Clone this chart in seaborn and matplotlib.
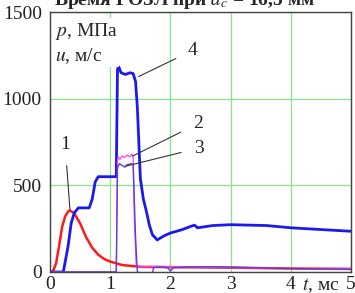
import matplotlib
matplotlib.use("Agg")
import matplotlib.pyplot as plt
import seaborn as sns
import pandas as pd

# curve 1 (red)
t_red = [0, 0.05, 0.1, 0.15, 0.2, 0.25, 0.3, 0.33, 0.4, 0.5, 0.6, 0.7, 0.8, 0.9,
         1.0, 1.2, 1.5, 2.0, 3.0, 4.0, 5.0]
p_red = [0, 5, 50, 150, 260, 320, 350, 355, 340, 280, 200, 140, 100, 75,
         60, 40, 30, 28, 25, 20, 18]

# curve 2 (magenta, thin)
t_mag = [0, 1.1, 1.12, 1.13, 1.16, 1.2, 1.24, 1.28, 1.32, 1.36, 1.38, 1.4, 1.43,
         1.5, 1.7, 2.0, 3.0, 4.0, 5.0]
p_mag = [0, 0, 640, 665, 650, 670, 660, 675, 665, 680, 660, 300, 40,
         30, 32, 30, 25, 20, 18]

# curve 3 (blue, thin)
t_thin = [0, 1.1, 1.12, 1.15, 1.2, 1.24, 1.28, 1.35, 1.38, 1.42, 1.45, 1.5, 1.7,
          1.72, 1.8, 1.95, 2.0, 2.05, 2.5, 3.0, 4.0, 5.0]
p_thin = [0, 0, 600, 625, 615, 605, 620, 625, 620, 200, 0, -5, -5,
          25, 30, 25, 5, 25, 30, 28, 20, 15]

# curve 4 (blue, thick)
t_blue = [0, 0.22, 0.3, 0.35, 0.4, 0.47, 0.65, 0.7, 0.75, 0.8, 1.1, 1.12, 1.14,
          1.18, 1.25, 1.33, 1.38, 1.42, 1.45, 1.5, 1.55, 1.6, 1.65, 1.7, 1.78,
          1.9, 2.0, 2.2, 2.35, 2.4, 2.45, 2.7, 3.0, 3.6, 4.0, 4.5, 5.0]
p_blue = [0, 0, 150, 280, 340, 370, 370, 420, 520, 550, 550, 1170, 1185,
          1150, 1140, 1150, 1145, 1100, 950, 540, 420, 350, 270, 215, 185,
          210, 225, 245, 265, 270, 255, 268, 273, 268, 255, 245, 235]

sns.set_style("white")
plt.rcParams["font.family"] = ["Liberation Serif", "DejaVu Serif"]
plt.rcParams["mathtext.fontset"] = "stix"

fig = plt.figure(figsize=(3.55, 2.93), dpi=100)
ax = fig.add_axes([0.141, 0.0717, 0.848, 0.887])

ax.grid(True, color="#8de08d", linewidth=0.9)
ax.set_axisbelow(True)

sns.lineplot(data=pd.DataFrame({"t": t_red, "p": p_red}), x="t", y="p",
             color="#ff1a1a", linewidth=1.8, ax=ax)
sns.lineplot(data=pd.DataFrame({"t": t_blue, "p": p_blue}), x="t", y="p",
             color="#1a1aee", linewidth=2.0, ax=ax)
sns.lineplot(data=pd.DataFrame({"t": t_mag, "p": p_mag}), x="t", y="p",
             color="#ff44ff", linewidth=0.9, ax=ax)
sns.lineplot(data=pd.DataFrame({"t": t_thin, "p": p_thin}), x="t", y="p",
             color="#5a3ee0", linewidth=1.0, ax=ax)

ax.set_xlim(0, 5)
ax.set_ylim(0, 1500)
ax.set_xticks([0, 1, 2, 3, 4, 5])
ax.set_yticks([0, 500, 1000, 1500])
ax.set_xlabel("")
ax.set_ylabel("")
ax.tick_params(labelsize=14, length=0, colors="#222222")
ax.tick_params(axis="y", pad=6)
ax.tick_params(axis="x", pad=3)
for s in ax.spines.values():
    s.set_color("#444444")
    s.set_linewidth(1.0)

ax.text(0.08, 1450, "$p$, МПа\n$u$, м/с", fontsize=14, va="top", ha="left",
        linespacing=1.3, bbox=dict(facecolor="white", edgecolor="none", pad=1))
ax.annotate("$t$, мс", xy=(4.5, 0), xycoords=("data", "axes fraction"),
            xytext=(0, -3), textcoords="offset points", fontsize=14,
            ha="center", va="top")

# curve labels with leader lines
ax.annotate("1", xy=(0.33, 360), xytext=(0.25, 738), fontsize=14, ha="center",
            va="center", arrowprops=dict(arrowstyle="-", color="#333333",
                                         lw=0.8, shrinkA=7, shrinkB=0))
ax.annotate("4", xy=(1.47, 1128), xytext=(2.37, 1279), fontsize=14, ha="center",
            va="center", arrowprops=dict(arrowstyle="-", color="#333333",
                                         lw=0.8, shrinkA=7, shrinkB=0))
ax.annotate("2", xy=(1.37, 669), xytext=(2.45, 855), fontsize=14, ha="center",
            va="center", arrowprops=dict(arrowstyle="-", color="#333333",
                                         lw=0.8, shrinkA=7, shrinkB=0))
ax.annotate("3", xy=(1.25, 610), xytext=(2.47, 715), fontsize=14, ha="center",
            va="center", arrowprops=dict(arrowstyle="-", color="#333333",
                                         lw=0.8, shrinkA=7, shrinkB=0))

fig.text(0.52, 0.984, "Время ГОЗЛ при $d_с$ = 16,5 мм", fontsize=14,
         fontweight="bold", ha="center", va="baseline")

fig.savefig("out.png", dpi=100)
